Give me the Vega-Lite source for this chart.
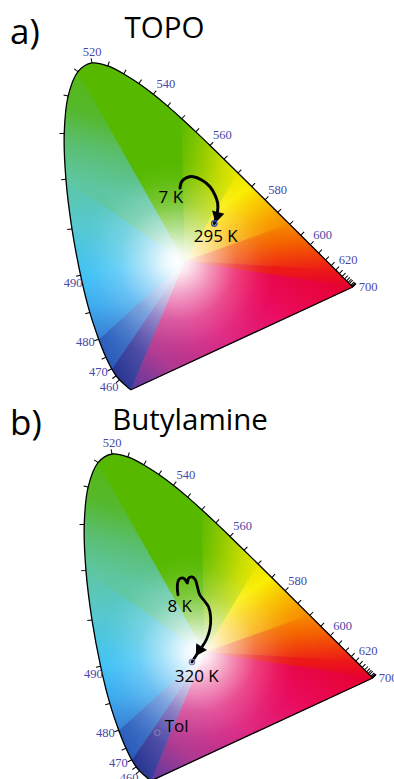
{
  "$schema": "https://vega.github.io/schema/vega-lite/v6.json",
  "padding": 0,
  "bounds": "flush",
  "spacing": 0,
  "background": "white",
  "config": {"view": {"stroke": null}, "concat": {"spacing": 0}},
  "datasets": {
    "locus": [
      {"nm":380,"x":0.1741,"y":0.0050},{"nm":400,"x":0.1733,"y":0.0048},{"nm":420,"x":0.1714,"y":0.0051},
      {"nm":440,"x":0.1644,"y":0.0109},{"nm":450,"x":0.1566,"y":0.0177},{"nm":455,"x":0.1510,"y":0.0227},
      {"nm":460,"x":0.1440,"y":0.0297},{"nm":465,"x":0.1355,"y":0.0399},{"nm":470,"x":0.1241,"y":0.0578},
      {"nm":475,"x":0.1096,"y":0.0868},{"nm":480,"x":0.0913,"y":0.1327},{"nm":485,"x":0.0687,"y":0.2007},
      {"nm":490,"x":0.0454,"y":0.2950},{"nm":495,"x":0.0235,"y":0.4127},{"nm":500,"x":0.0082,"y":0.5384},
      {"nm":505,"x":0.0039,"y":0.6548},{"nm":510,"x":0.0139,"y":0.7502},{"nm":515,"x":0.0389,"y":0.8120},
      {"nm":520,"x":0.0743,"y":0.8338},{"nm":525,"x":0.1142,"y":0.8262},{"nm":530,"x":0.1547,"y":0.8059},
      {"nm":535,"x":0.1929,"y":0.7816},{"nm":540,"x":0.2296,"y":0.7543},{"nm":545,"x":0.2658,"y":0.7243},
      {"nm":550,"x":0.3016,"y":0.6923},{"nm":555,"x":0.3373,"y":0.6589},{"nm":560,"x":0.3731,"y":0.6245},
      {"nm":565,"x":0.4087,"y":0.5896},{"nm":570,"x":0.4441,"y":0.5547},{"nm":575,"x":0.4788,"y":0.5202},
      {"nm":580,"x":0.5125,"y":0.4866},{"nm":585,"x":0.5448,"y":0.4544},{"nm":590,"x":0.5752,"y":0.4242},
      {"nm":595,"x":0.6029,"y":0.3965},{"nm":600,"x":0.6270,"y":0.3725},{"nm":605,"x":0.6482,"y":0.3514},
      {"nm":610,"x":0.6658,"y":0.3340},{"nm":615,"x":0.6801,"y":0.3197},{"nm":620,"x":0.6915,"y":0.3083},
      {"nm":625,"x":0.7006,"y":0.2993},{"nm":630,"x":0.7079,"y":0.2920},{"nm":635,"x":0.7140,"y":0.2859},
      {"nm":640,"x":0.7190,"y":0.2809},{"nm":645,"x":0.7230,"y":0.2770},{"nm":650,"x":0.7260,"y":0.2740},
      {"nm":660,"x":0.7300,"y":0.2700},{"nm":670,"x":0.7320,"y":0.2680},{"nm":680,"x":0.7334,"y":0.2666},
      {"nm":690,"x":0.7344,"y":0.2656},{"nm":700,"x":0.7347,"y":0.2653}
    ],
    "fan": [
      {"w":1,"o":0,"x":0.31,"y":0.33},{"w":1,"o":1,"x":0.1741,"y":0.005},{"w":1,"o":2,"x":0.144,"y":0.0297},{"w":1,"o":3,"x":0.1355,"y":0.0399},{"w":1,"o":4,"x":0.1241,"y":0.0578},
      {"w":2,"o":0,"x":0.31,"y":0.33},{"w":2,"o":1,"x":0.1241,"y":0.0578},{"w":2,"o":2,"x":0.1096,"y":0.0868},{"w":2,"o":3,"x":0.0913,"y":0.1327},
      {"w":3,"o":0,"x":0.31,"y":0.33},{"w":3,"o":1,"x":0.0913,"y":0.1327},{"w":3,"o":2,"x":0.0687,"y":0.2007},{"w":3,"o":3,"x":0.0454,"y":0.295},
      {"w":4,"o":0,"x":0.31,"y":0.33},{"w":4,"o":1,"x":0.0454,"y":0.295},{"w":4,"o":2,"x":0.0235,"y":0.4127},{"w":4,"o":3,"x":0.0082,"y":0.5384},
      {"w":5,"o":0,"x":0.31,"y":0.33},{"w":5,"o":1,"x":0.0082,"y":0.5384},{"w":5,"o":2,"x":0.0039,"y":0.6548},{"w":5,"o":3,"x":0.0139,"y":0.7502},{"w":5,"o":4,"x":0.0389,"y":0.812},
      {"w":6,"o":0,"x":0.31,"y":0.33},{"w":6,"o":1,"x":0.0389,"y":0.812},{"w":6,"o":2,"x":0.0743,"y":0.8338},{"w":6,"o":3,"x":0.1142,"y":0.8262},{"w":6,"o":4,"x":0.1547,"y":0.8059},{"w":6,"o":5,"x":0.1929,"y":0.7816},{"w":6,"o":6,"x":0.2296,"y":0.7543},{"w":6,"o":7,"x":0.2658,"y":0.7243},{"w":6,"o":8,"x":0.3016,"y":0.6923},
      {"w":7,"o":0,"x":0.31,"y":0.33},{"w":7,"o":1,"x":0.3016,"y":0.6923},{"w":7,"o":2,"x":0.3373,"y":0.6589},{"w":7,"o":3,"x":0.3731,"y":0.6245},{"w":7,"o":4,"x":0.4087,"y":0.5896},{"w":7,"o":5,"x":0.4441,"y":0.5547},
      {"w":8,"o":0,"x":0.31,"y":0.33},{"w":8,"o":1,"x":0.4441,"y":0.5547},{"w":8,"o":2,"x":0.4788,"y":0.5202},{"w":8,"o":3,"x":0.5125,"y":0.4866},{"w":8,"o":4,"x":0.5448,"y":0.4544},{"w":8,"o":5,"x":0.5752,"y":0.4242},
      {"w":9,"o":0,"x":0.31,"y":0.33},{"w":9,"o":1,"x":0.5752,"y":0.4242},{"w":9,"o":2,"x":0.6029,"y":0.3965},{"w":9,"o":3,"x":0.627,"y":0.3725},{"w":9,"o":4,"x":0.6482,"y":0.3514},{"w":9,"o":5,"x":0.6658,"y":0.334},{"w":9,"o":6,"x":0.6801,"y":0.3197},{"w":9,"o":7,"x":0.6915,"y":0.3083},
      {"w":10,"o":0,"x":0.31,"y":0.33},{"w":10,"o":1,"x":0.6915,"y":0.3083},{"w":10,"o":2,"x":0.7006,"y":0.2993},{"w":10,"o":3,"x":0.7079,"y":0.292},{"w":10,"o":4,"x":0.714,"y":0.2859},{"w":10,"o":5,"x":0.719,"y":0.2809},{"w":10,"o":6,"x":0.723,"y":0.277},{"w":10,"o":7,"x":0.726,"y":0.274},{"w":10,"o":8,"x":0.73,"y":0.27},{"w":10,"o":9,"x":0.7334,"y":0.2666},{"w":10,"o":10,"x":0.7347,"y":0.2653},
      {"w":11,"o":0,"x":0.31,"y":0.33},{"w":11,"o":1,"x":0.7347,"y":0.2653},{"w":11,"o":2,"x":0.1741,"y":0.005}
    ],
    "headings": [
      {"panel":"a","kind":"tag","text":"a)","x":-0.1335,"y":0.882},
      {"panel":"a","kind":"name","text":"TOPO","x":0.2579,"y":0.898},
      {"panel":"b","kind":"tag","text":"b)","x":-0.1841,"y":0.882},
      {"panel":"b","kind":"name","text":"Butylamine","x":0.2718,"y":0.8947}
    ],
    "notes": [
      {"panel":"a","text":"7 K","x":0.2738,"y":0.4906},
      {"panel":"a","text":"295 K","x":0.3878,"y":0.3909},
      {"panel":"b","text":"8 K","x":0.2457,"y":0.4454},
      {"panel":"b","text":"320 K","x":0.2888,"y":0.2685},
      {"panel":"b","text":"Tol","x":0.238,"y":0.1416}
    ],
    "markers": [
      {"panel":"a","name":"295 K","x":0.384,"y":0.4264},
      {"panel":"b","name":"320 K","x":0.2768,"y":0.3058},
      {"panel":"b","name":"Tol","x":0.189,"y":0.1264}
    ],
    "path": [
      {"panel":"a","i":0,"x":0.2971,"y":0.5165},{"panel":"a","i":1,"x":0.3014,"y":0.5325},{"panel":"a","i":2,"x":0.3141,"y":0.5426},
      {"panel":"a","i":3,"x":0.3308,"y":0.5452},{"panel":"a","i":4,"x":0.3521,"y":0.5368},{"panel":"a","i":5,"x":0.3731,"y":0.5198},
      {"panel":"a","i":6,"x":0.3858,"y":0.4987},{"panel":"a","i":7,"x":0.3926,"y":0.4777},{"panel":"a","i":8,"x":0.3921,"y":0.4556},
      {"panel":"a","i":9,"x":0.384,"y":0.4264},
      {"panel":"b","i":0,"x":0.2414,"y":0.4766},{"panel":"b","i":1,"x":0.2396,"y":0.498},{"panel":"b","i":2,"x":0.2432,"y":0.5147},
      {"panel":"b","i":3,"x":0.2497,"y":0.519},{"panel":"b","i":4,"x":0.2584,"y":0.5165},{"panel":"b","i":5,"x":0.2649,"y":0.5063},
      {"panel":"b","i":6,"x":0.2685,"y":0.519},{"panel":"b","i":7,"x":0.2768,"y":0.5216},{"panel":"b","i":8,"x":0.2852,"y":0.5147},
      {"panel":"b","i":9,"x":0.2903,"y":0.498},{"panel":"b","i":10,"x":0.2963,"y":0.4766},{"panel":"b","i":11,"x":0.309,"y":0.4599},
      {"panel":"b","i":12,"x":0.3191,"y":0.4447},{"panel":"b","i":13,"x":0.3242,"y":0.4175},{"panel":"b","i":14,"x":0.3217,"y":0.3878},
      {"panel":"b","i":15,"x":0.3131,"y":0.3624},{"panel":"b","i":16,"x":0.3004,"y":0.3414},{"panel":"b","i":17,"x":0.2895,"y":0.3261},
      {"panel":"b","i":18,"x":0.2768,"y":0.3058}
    ]
  },
  "vconcat": [
    {
      "width": 394,
      "height": 390,
      "encoding": {
        "x": {"field": "x", "type": "quantitative", "scale": {"domain": [-0.1588, 0.8392], "nice": false, "zero": false}, "axis": null},
        "y": {"field": "y", "type": "quantitative", "scale": {"domain": [0.0038, 0.99365], "nice": false, "zero": false}, "axis": null}
      },
      "layer": [
        {"data": {"name": "locus"}, "mark": {"type": "line", "interpolate": "catmull-rom", "fill": "#5cba50", "strokeOpacity": 0}, "encoding": {"order": {"field": "nm"}}},
        {"data": {"name": "fan"}, "transform": [{"filter": "datum.w == 1"}], "mark": {"type": "line", "interpolate": "linear-closed", "strokeWidth": 0.8, "fill": {"gradient": "linear", "x1": 0.1345, "y1": 0.9188, "x2": 1, "y2": 0, "stops": [{"offset": 0, "color": "#2a3894"}, {"offset": 0.45, "color": "#6a5cb4"}, {"offset": 1, "color": "#b8a8dc"}]}, "stroke": {"gradient": "linear", "x1": 0.1345, "y1": 0.9188, "x2": 1, "y2": 0, "stops": [{"offset": 0, "color": "#2a3894"}, {"offset": 0.45, "color": "#6a5cb4"}, {"offset": 1, "color": "#b8a8dc"}]}}, "encoding": {"order": {"field": "o"}}},
        {"data": {"name": "fan"}, "transform": [{"filter": "datum.w == 2"}], "mark": {"type": "line", "interpolate": "linear-closed", "strokeWidth": 0.8, "fill": {"gradient": "linear", "x1": 0.075, "y1": 0.8622, "x2": 1, "y2": 0, "stops": [{"offset": 0, "color": "#2a5cba"}, {"offset": 0.5, "color": "#5a8cd6"}, {"offset": 1, "color": "#a8c4ec"}]}, "stroke": {"gradient": "linear", "x1": 0.075, "y1": 0.8622, "x2": 1, "y2": 0, "stops": [{"offset": 0, "color": "#2a5cba"}, {"offset": 0.5, "color": "#5a8cd6"}, {"offset": 1, "color": "#a8c4ec"}]}}, "encoding": {"order": {"field": "o"}}},
        {"data": {"name": "fan"}, "transform": [{"filter": "datum.w == 3"}], "mark": {"type": "line", "interpolate": "linear-closed", "strokeWidth": 0.8, "fill": {"gradient": "linear", "x1": 0.1735, "y1": 1, "x2": 0, "y2": 0.1774, "stops": [{"offset": 0, "color": "#3a80d4"}, {"offset": 0.5, "color": "#3eaaee"}, {"offset": 1, "color": "#40c2f6"}]}, "stroke": {"gradient": "linear", "x1": 0.1735, "y1": 1, "x2": 0, "y2": 0.1774, "stops": [{"offset": 0, "color": "#3a80d4"}, {"offset": 0.5, "color": "#3eaaee"}, {"offset": 1, "color": "#40c2f6"}]}}, "encoding": {"order": {"field": "o"}}},
        {"data": {"name": "fan"}, "transform": [{"filter": "datum.w == 4"}], "mark": {"type": "line", "interpolate": "linear-closed", "strokeWidth": 0.8, "fill": {"gradient": "linear", "x1": 0.1233, "y1": 1, "x2": 0, "y2": 0, "stops": [{"offset": 0, "color": "#40c2f6"}, {"offset": 0.5, "color": "#56c8d0"}, {"offset": 1, "color": "#5ec6a2"}]}, "stroke": {"gradient": "linear", "x1": 0.1233, "y1": 1, "x2": 0, "y2": 0, "stops": [{"offset": 0, "color": "#40c2f6"}, {"offset": 0.5, "color": "#56c8d0"}, {"offset": 1, "color": "#5ec6a2"}]}}, "encoding": {"order": {"field": "o"}}},
        {"data": {"name": "fan"}, "transform": [{"filter": "datum.w == 5"}], "mark": {"type": "line", "interpolate": "linear-closed", "strokeWidth": 0.8, "fill": {"gradient": "linear", "x1": 0.014, "y1": 0.5676, "x2": 0.1143, "y2": 0, "stops": [{"offset": 0, "color": "#5ec6a2"}, {"offset": 0.35, "color": "#5abe6e"}, {"offset": 0.65, "color": "#54b82c"}, {"offset": 1, "color": "#55b814"}]}, "stroke": {"gradient": "linear", "x1": 0.014, "y1": 0.5676, "x2": 0.1143, "y2": 0, "stops": [{"offset": 0, "color": "#5ec6a2"}, {"offset": 0.35, "color": "#5abe6e"}, {"offset": 0.65, "color": "#54b82c"}, {"offset": 1, "color": "#55b814"}]}}, "encoding": {"order": {"field": "o"}}},
        {"data": {"name": "fan"}, "transform": [{"filter": "datum.w == 6"}], "mark": {"type": "line", "interpolate": "linear-closed", "strokeWidth": 0.8, "fill": "#56b900", "stroke": "#56b900"}, "encoding": {"order": {"field": "o"}}},
        {"data": {"name": "fan"}, "transform": [{"filter": "datum.w == 7"}], "mark": {"type": "line", "interpolate": "linear-closed", "strokeWidth": 0.8, "fill": {"gradient": "linear", "x1": 0, "y1": 0, "x2": 1, "y2": 0.3798, "stops": [{"offset": 0, "color": "#5cba00"}, {"offset": 0.25, "color": "#7cc400"}, {"offset": 0.5, "color": "#a2d000"}, {"offset": 0.75, "color": "#cade00"}, {"offset": 1, "color": "#e8e600"}]}, "stroke": {"gradient": "linear", "x1": 0, "y1": 0, "x2": 1, "y2": 0.3798, "stops": [{"offset": 0, "color": "#5cba00"}, {"offset": 0.25, "color": "#7cc400"}, {"offset": 0.5, "color": "#a2d000"}, {"offset": 0.75, "color": "#cade00"}, {"offset": 1, "color": "#e8e600"}]}}, "encoding": {"order": {"field": "o"}}},
        {"data": {"name": "fan"}, "transform": [{"filter": "datum.w == 8"}], "mark": {"type": "line", "interpolate": "linear-closed", "strokeWidth": 0.8, "fill": {"gradient": "linear", "x1": 0.5057, "y1": 0, "x2": 1, "y2": 0.5808, "stops": [{"offset": 0, "color": "#e8e600"}, {"offset": 0.25, "color": "#faee00"}, {"offset": 0.5, "color": "#f9c800"}, {"offset": 0.75, "color": "#f8a600"}, {"offset": 1, "color": "#f78800"}]}, "stroke": {"gradient": "linear", "x1": 0.5057, "y1": 0, "x2": 1, "y2": 0.5808, "stops": [{"offset": 0, "color": "#e8e600"}, {"offset": 0.25, "color": "#faee00"}, {"offset": 0.5, "color": "#f9c800"}, {"offset": 0.75, "color": "#f8a600"}, {"offset": 1, "color": "#f78800"}]}}, "encoding": {"order": {"field": "o"}}},
        {"data": {"name": "fan"}, "transform": [{"filter": "datum.w == 9"}], "mark": {"type": "line", "interpolate": "linear-closed", "strokeWidth": 0.8, "fill": {"gradient": "linear", "x1": 0.6951, "y1": 0, "x2": 1, "y2": 1, "stops": [{"offset": 0, "color": "#f78800"}, {"offset": 0.35, "color": "#f46400"}, {"offset": 0.7, "color": "#f03a0c"}, {"offset": 1, "color": "#ec1818"}]}, "stroke": {"gradient": "linear", "x1": 0.6951, "y1": 0, "x2": 1, "y2": 1, "stops": [{"offset": 0, "color": "#f78800"}, {"offset": 0.35, "color": "#f46400"}, {"offset": 0.7, "color": "#f03a0c"}, {"offset": 1, "color": "#ec1818"}]}}, "encoding": {"order": {"field": "o"}}},
        {"data": {"name": "fan"}, "transform": [{"filter": "datum.w == 10"}], "mark": {"type": "line", "interpolate": "linear-closed", "strokeWidth": 0.8, "fill": {"gradient": "linear", "x1": 0.8983, "y1": 0.3354, "x2": 1, "y2": 1, "stops": [{"offset": 0, "color": "#ec1818"}, {"offset": 1, "color": "#e6002e"}]}, "stroke": {"gradient": "linear", "x1": 0.8983, "y1": 0.3354, "x2": 1, "y2": 1, "stops": [{"offset": 0, "color": "#ec1818"}, {"offset": 1, "color": "#e6002e"}]}}, "encoding": {"order": {"field": "o"}}},
        {"data": {"name": "fan"}, "transform": [{"filter": "datum.w == 11"}], "mark": {"type": "line", "interpolate": "linear-closed", "strokeWidth": 0.8, "fill": {"gradient": "linear", "x1": 1, "y1": 0.1991, "x2": 0, "y2": 1, "stops": [{"offset": 0, "color": "#e6002e"}, {"offset": 0.3, "color": "#ea0c5e"}, {"offset": 0.55, "color": "#de2682"}, {"offset": 0.8, "color": "#b03a92"}, {"offset": 1, "color": "#5a3a9e"}]}, "stroke": {"gradient": "linear", "x1": 1, "y1": 0.1991, "x2": 0, "y2": 1, "stops": [{"offset": 0, "color": "#e6002e"}, {"offset": 0.3, "color": "#ea0c5e"}, {"offset": 0.55, "color": "#de2682"}, {"offset": 0.8, "color": "#b03a92"}, {"offset": 1, "color": "#5a3a9e"}]}}, "encoding": {"order": {"field": "o"}}},
        {"data": {"name": "locus"}, "mark": {"type": "line", "interpolate": "catmull-rom", "strokeOpacity": 0, "fill": {"gradient": "radial", "x1": 0.405, "y1": 0.608, "r1": 0, "x2": 0.405, "y2": 0.608, "r2": 0.3, "stops": [{"offset": 0, "color": "rgba(255,255,255,1)"}, {"offset": 0.12, "color": "rgba(255,255,255,0.9)"}, {"offset": 0.35, "color": "rgba(255,255,255,0.55)"}, {"offset": 0.6, "color": "rgba(255,255,255,0.22)"}, {"offset": 0.85, "color": "rgba(255,255,255,0.05)"}, {"offset": 1, "color": "rgba(255,255,255,0)"}]}}, "encoding": {"order": {"field": "nm"}}},
        {"data": {"name": "locus"}, "mark": {"type": "line", "interpolate": "catmull-rom", "stroke": "black", "strokeWidth": 1.3}, "encoding": {"order": {"field": "nm"}}},
        {"data": {"name": "locus"}, "transform": [{"filter": "datum.nm == 380 || datum.nm == 700"}], "mark": {"type": "line", "stroke": "black", "strokeWidth": 1.3}, "encoding": {"order": {"field": "nm"}}},
        {"data": {"name": "locus"}, "transform": [
            {"window": [{"op": "lag", "field": "x", "as": "xp"}, {"op": "lag", "field": "y", "as": "yp"}, {"op": "lead", "field": "x", "as": "xn"}, {"op": "lead", "field": "y", "as": "yn"}], "sort": [{"field": "nm", "order": "ascending"}]},
            {"calculate": "atan2(-((isValid(datum.yn) ? datum.yn : datum.y) - (isValid(datum.yp) ? datum.yp : datum.y)), (isValid(datum.xn) ? datum.xn : datum.x) - (isValid(datum.xp) ? datum.xp : datum.x)) * 180 / PI", "as": "ang"},
            {"filter": "datum.nm >= 460"}
          ],
          "mark": {"type": "point", "shape": "M0,0L0,-1", "size": 90, "filled": false, "stroke": "black", "strokeWidth": 1, "opacity": 1},
          "encoding": {"angle": {"field": "ang", "type": "quantitative", "scale": null}}},
        {"data": {"name": "locus"}, "transform": [{"filter": "datum.nm == 520"}], "mark": {"type": "text", "font": "Liberation Serif", "fontSize": 12.5, "color": "#4848a8", "align": "center", "baseline": "middle", "dy": -11}, "encoding": {"text": {"field": "nm", "type": "nominal"}}},
        {"data": {"name": "locus"}, "transform": [{"filter": "indexof([540, 560, 580, 600, 620], datum.nm) >= 0"}], "mark": {"type": "text", "font": "Liberation Serif", "fontSize": 12.5, "color": "#4848a8", "align": "center", "baseline": "middle", "dx": 12.5, "dy": -10}, "encoding": {"text": {"field": "nm", "type": "nominal"}}},
        {"data": {"name": "locus"}, "transform": [{"filter": "datum.nm == 700"}], "mark": {"type": "text", "font": "Liberation Serif", "fontSize": 12.5, "color": "#4848a8", "align": "left", "baseline": "middle", "dx": 6, "dy": 0.5}, "encoding": {"text": {"field": "nm", "type": "nominal"}}},
        {"data": {"name": "locus"}, "transform": [{"filter": "datum.nm == 470 || datum.nm == 480"}], "mark": {"type": "text", "font": "Liberation Serif", "fontSize": 12.5, "color": "#4848a8", "align": "right", "baseline": "middle", "dx": -4, "dy": 3}, "encoding": {"text": {"field": "nm", "type": "nominal"}}},
        {"data": {"name": "locus"}, "transform": [{"filter": "datum.nm == 460"}], "mark": {"type": "text", "font": "Liberation Serif", "fontSize": 12.5, "color": "#4848a8", "align": "right", "baseline": "middle", "dx": -1, "dy": 7}, "encoding": {"text": {"field": "nm", "type": "nominal"}}},
        {"data": {"name": "locus"}, "transform": [{"filter": "datum.nm == 490"}], "mark": {"type": "text", "font": "Liberation Serif", "fontSize": 12.5, "color": "#4848a8", "align": "right", "baseline": "middle", "dx": 2, "dy": 8}, "encoding": {"text": {"field": "nm", "type": "nominal"}}},
        {"data": {"name": "path"}, "transform": [{"filter": "datum.panel == 'a'"}], "mark": {"type": "line", "interpolate": "catmull-rom", "stroke": "black", "strokeWidth": 3, "strokeCap": "round"}, "encoding": {"order": {"field": "i"}}},
        {"data": {"name": "path"}, "transform": [{"filter": "datum.panel == 'a' && datum.i == 9"}], "mark": {"type": "point", "shape": "triangle-down", "size": 160, "filled": true, "color": "black", "opacity": 1, "angle": 15, "xOffset": 2.5, "yOffset": -6}},
        {"data": {"name": "markers"}, "transform": [{"filter": "datum.panel == 'a'"}], "mark": {"type": "point", "shape": "circle", "size": 30, "filled": false, "stroke": "#2f4fb0", "strokeWidth": 1.3, "opacity": 1}},
        {"data": {"name": "notes"}, "transform": [{"filter": "datum.panel == 'a'"}], "mark": {"type": "text", "font": "Open Sans", "fontSize": 17, "color": "black", "align": "center", "baseline": "middle"}, "encoding": {"text": {"field": "text", "type": "nominal"}}},
        {"data": {"name": "headings"}, "transform": [{"filter": "datum.panel == 'a' && datum.kind == 'tag'"}], "mark": {"type": "text", "font": "Open Sans", "fontSize": 35, "color": "black", "align": "left", "baseline": "alphabetic"}, "encoding": {"text": {"field": "text", "type": "nominal"}}},
        {"data": {"name": "headings"}, "transform": [{"filter": "datum.panel == 'a' && datum.kind == 'name'"}], "mark": {"type": "text", "font": "Open Sans", "fontSize": 29.5, "color": "black", "align": "center", "baseline": "alphabetic"}, "encoding": {"text": {"field": "text", "type": "nominal"}}}
      ]
    },
    {
      "width": 394,
      "height": 389,
      "encoding": {
        "x": {"field": "x", "type": "quantitative", "scale": {"domain": [-0.2095, 0.7885], "nice": false, "zero": false}, "axis": null},
        "y": {"field": "y", "type": "quantitative", "scale": {"domain": [0.0089, 0.9962], "nice": false, "zero": false}, "axis": null}
      },
      "layer": [
        {"data": {"name": "locus"}, "mark": {"type": "line", "interpolate": "catmull-rom", "fill": "#5cba50", "strokeOpacity": 0}, "encoding": {"order": {"field": "nm"}}},
        {"data": {"name": "fan"}, "transform": [{"filter": "datum.w == 1"}], "mark": {"type": "line", "interpolate": "linear-closed", "strokeWidth": 0.8, "fill": {"gradient": "linear", "x1": 0.1345, "y1": 0.9188, "x2": 1, "y2": 0, "stops": [{"offset": 0, "color": "#2a3894"}, {"offset": 0.45, "color": "#6a5cb4"}, {"offset": 1, "color": "#b8a8dc"}]}, "stroke": {"gradient": "linear", "x1": 0.1345, "y1": 0.9188, "x2": 1, "y2": 0, "stops": [{"offset": 0, "color": "#2a3894"}, {"offset": 0.45, "color": "#6a5cb4"}, {"offset": 1, "color": "#b8a8dc"}]}}, "encoding": {"order": {"field": "o"}}},
        {"data": {"name": "fan"}, "transform": [{"filter": "datum.w == 2"}], "mark": {"type": "line", "interpolate": "linear-closed", "strokeWidth": 0.8, "fill": {"gradient": "linear", "x1": 0.075, "y1": 0.8622, "x2": 1, "y2": 0, "stops": [{"offset": 0, "color": "#2a5cba"}, {"offset": 0.5, "color": "#5a8cd6"}, {"offset": 1, "color": "#a8c4ec"}]}, "stroke": {"gradient": "linear", "x1": 0.075, "y1": 0.8622, "x2": 1, "y2": 0, "stops": [{"offset": 0, "color": "#2a5cba"}, {"offset": 0.5, "color": "#5a8cd6"}, {"offset": 1, "color": "#a8c4ec"}]}}, "encoding": {"order": {"field": "o"}}},
        {"data": {"name": "fan"}, "transform": [{"filter": "datum.w == 3"}], "mark": {"type": "line", "interpolate": "linear-closed", "strokeWidth": 0.8, "fill": {"gradient": "linear", "x1": 0.1735, "y1": 1, "x2": 0, "y2": 0.1774, "stops": [{"offset": 0, "color": "#3a80d4"}, {"offset": 0.5, "color": "#3eaaee"}, {"offset": 1, "color": "#40c2f6"}]}, "stroke": {"gradient": "linear", "x1": 0.1735, "y1": 1, "x2": 0, "y2": 0.1774, "stops": [{"offset": 0, "color": "#3a80d4"}, {"offset": 0.5, "color": "#3eaaee"}, {"offset": 1, "color": "#40c2f6"}]}}, "encoding": {"order": {"field": "o"}}},
        {"data": {"name": "fan"}, "transform": [{"filter": "datum.w == 4"}], "mark": {"type": "line", "interpolate": "linear-closed", "strokeWidth": 0.8, "fill": {"gradient": "linear", "x1": 0.1233, "y1": 1, "x2": 0, "y2": 0, "stops": [{"offset": 0, "color": "#40c2f6"}, {"offset": 0.5, "color": "#56c8d0"}, {"offset": 1, "color": "#5ec6a2"}]}, "stroke": {"gradient": "linear", "x1": 0.1233, "y1": 1, "x2": 0, "y2": 0, "stops": [{"offset": 0, "color": "#40c2f6"}, {"offset": 0.5, "color": "#56c8d0"}, {"offset": 1, "color": "#5ec6a2"}]}}, "encoding": {"order": {"field": "o"}}},
        {"data": {"name": "fan"}, "transform": [{"filter": "datum.w == 5"}], "mark": {"type": "line", "interpolate": "linear-closed", "strokeWidth": 0.8, "fill": {"gradient": "linear", "x1": 0.014, "y1": 0.5676, "x2": 0.1143, "y2": 0, "stops": [{"offset": 0, "color": "#5ec6a2"}, {"offset": 0.35, "color": "#5abe6e"}, {"offset": 0.65, "color": "#54b82c"}, {"offset": 1, "color": "#55b814"}]}, "stroke": {"gradient": "linear", "x1": 0.014, "y1": 0.5676, "x2": 0.1143, "y2": 0, "stops": [{"offset": 0, "color": "#5ec6a2"}, {"offset": 0.35, "color": "#5abe6e"}, {"offset": 0.65, "color": "#54b82c"}, {"offset": 1, "color": "#55b814"}]}}, "encoding": {"order": {"field": "o"}}},
        {"data": {"name": "fan"}, "transform": [{"filter": "datum.w == 6"}], "mark": {"type": "line", "interpolate": "linear-closed", "strokeWidth": 0.8, "fill": "#56b900", "stroke": "#56b900"}, "encoding": {"order": {"field": "o"}}},
        {"data": {"name": "fan"}, "transform": [{"filter": "datum.w == 7"}], "mark": {"type": "line", "interpolate": "linear-closed", "strokeWidth": 0.8, "fill": {"gradient": "linear", "x1": 0, "y1": 0, "x2": 1, "y2": 0.3798, "stops": [{"offset": 0, "color": "#5cba00"}, {"offset": 0.25, "color": "#7cc400"}, {"offset": 0.5, "color": "#a2d000"}, {"offset": 0.75, "color": "#cade00"}, {"offset": 1, "color": "#e8e600"}]}, "stroke": {"gradient": "linear", "x1": 0, "y1": 0, "x2": 1, "y2": 0.3798, "stops": [{"offset": 0, "color": "#5cba00"}, {"offset": 0.25, "color": "#7cc400"}, {"offset": 0.5, "color": "#a2d000"}, {"offset": 0.75, "color": "#cade00"}, {"offset": 1, "color": "#e8e600"}]}}, "encoding": {"order": {"field": "o"}}},
        {"data": {"name": "fan"}, "transform": [{"filter": "datum.w == 8"}], "mark": {"type": "line", "interpolate": "linear-closed", "strokeWidth": 0.8, "fill": {"gradient": "linear", "x1": 0.5057, "y1": 0, "x2": 1, "y2": 0.5808, "stops": [{"offset": 0, "color": "#e8e600"}, {"offset": 0.25, "color": "#faee00"}, {"offset": 0.5, "color": "#f9c800"}, {"offset": 0.75, "color": "#f8a600"}, {"offset": 1, "color": "#f78800"}]}, "stroke": {"gradient": "linear", "x1": 0.5057, "y1": 0, "x2": 1, "y2": 0.5808, "stops": [{"offset": 0, "color": "#e8e600"}, {"offset": 0.25, "color": "#faee00"}, {"offset": 0.5, "color": "#f9c800"}, {"offset": 0.75, "color": "#f8a600"}, {"offset": 1, "color": "#f78800"}]}}, "encoding": {"order": {"field": "o"}}},
        {"data": {"name": "fan"}, "transform": [{"filter": "datum.w == 9"}], "mark": {"type": "line", "interpolate": "linear-closed", "strokeWidth": 0.8, "fill": {"gradient": "linear", "x1": 0.6951, "y1": 0, "x2": 1, "y2": 1, "stops": [{"offset": 0, "color": "#f78800"}, {"offset": 0.35, "color": "#f46400"}, {"offset": 0.7, "color": "#f03a0c"}, {"offset": 1, "color": "#ec1818"}]}, "stroke": {"gradient": "linear", "x1": 0.6951, "y1": 0, "x2": 1, "y2": 1, "stops": [{"offset": 0, "color": "#f78800"}, {"offset": 0.35, "color": "#f46400"}, {"offset": 0.7, "color": "#f03a0c"}, {"offset": 1, "color": "#ec1818"}]}}, "encoding": {"order": {"field": "o"}}},
        {"data": {"name": "fan"}, "transform": [{"filter": "datum.w == 10"}], "mark": {"type": "line", "interpolate": "linear-closed", "strokeWidth": 0.8, "fill": {"gradient": "linear", "x1": 0.8983, "y1": 0.3354, "x2": 1, "y2": 1, "stops": [{"offset": 0, "color": "#ec1818"}, {"offset": 1, "color": "#e6002e"}]}, "stroke": {"gradient": "linear", "x1": 0.8983, "y1": 0.3354, "x2": 1, "y2": 1, "stops": [{"offset": 0, "color": "#ec1818"}, {"offset": 1, "color": "#e6002e"}]}}, "encoding": {"order": {"field": "o"}}},
        {"data": {"name": "fan"}, "transform": [{"filter": "datum.w == 11"}], "mark": {"type": "line", "interpolate": "linear-closed", "strokeWidth": 0.8, "fill": {"gradient": "linear", "x1": 1, "y1": 0.1991, "x2": 0, "y2": 1, "stops": [{"offset": 0, "color": "#e6002e"}, {"offset": 0.3, "color": "#ea0c5e"}, {"offset": 0.55, "color": "#de2682"}, {"offset": 0.8, "color": "#b03a92"}, {"offset": 1, "color": "#5a3a9e"}]}, "stroke": {"gradient": "linear", "x1": 1, "y1": 0.1991, "x2": 0, "y2": 1, "stops": [{"offset": 0, "color": "#e6002e"}, {"offset": 0.3, "color": "#ea0c5e"}, {"offset": 0.55, "color": "#de2682"}, {"offset": 0.8, "color": "#b03a92"}, {"offset": 1, "color": "#5a3a9e"}]}}, "encoding": {"order": {"field": "o"}}},
        {"data": {"name": "locus"}, "mark": {"type": "line", "interpolate": "catmull-rom", "strokeOpacity": 0, "fill": {"gradient": "radial", "x1": 0.405, "y1": 0.608, "r1": 0, "x2": 0.405, "y2": 0.608, "r2": 0.3, "stops": [{"offset": 0, "color": "rgba(255,255,255,1)"}, {"offset": 0.12, "color": "rgba(255,255,255,0.9)"}, {"offset": 0.35, "color": "rgba(255,255,255,0.55)"}, {"offset": 0.6, "color": "rgba(255,255,255,0.22)"}, {"offset": 0.85, "color": "rgba(255,255,255,0.05)"}, {"offset": 1, "color": "rgba(255,255,255,0)"}]}}, "encoding": {"order": {"field": "nm"}}},
        {"data": {"name": "locus"}, "mark": {"type": "line", "interpolate": "catmull-rom", "stroke": "black", "strokeWidth": 1.3}, "encoding": {"order": {"field": "nm"}}},
        {"data": {"name": "locus"}, "transform": [{"filter": "datum.nm == 380 || datum.nm == 700"}], "mark": {"type": "line", "stroke": "black", "strokeWidth": 1.3}, "encoding": {"order": {"field": "nm"}}},
        {"data": {"name": "locus"}, "transform": [
            {"window": [{"op": "lag", "field": "x", "as": "xp"}, {"op": "lag", "field": "y", "as": "yp"}, {"op": "lead", "field": "x", "as": "xn"}, {"op": "lead", "field": "y", "as": "yn"}], "sort": [{"field": "nm", "order": "ascending"}]},
            {"calculate": "atan2(-((isValid(datum.yn) ? datum.yn : datum.y) - (isValid(datum.yp) ? datum.yp : datum.y)), (isValid(datum.xn) ? datum.xn : datum.x) - (isValid(datum.xp) ? datum.xp : datum.x)) * 180 / PI", "as": "ang"},
            {"filter": "datum.nm >= 460"}
          ],
          "mark": {"type": "point", "shape": "M0,0L0,-1", "size": 90, "filled": false, "stroke": "black", "strokeWidth": 1, "opacity": 1},
          "encoding": {"angle": {"field": "ang", "type": "quantitative", "scale": null}}},
        {"data": {"name": "locus"}, "transform": [{"filter": "datum.nm == 520"}], "mark": {"type": "text", "font": "Liberation Serif", "fontSize": 12.5, "color": "#4848a8", "align": "center", "baseline": "middle", "dy": -11}, "encoding": {"text": {"field": "nm", "type": "nominal"}}},
        {"data": {"name": "locus"}, "transform": [{"filter": "indexof([540, 560, 580, 600, 620], datum.nm) >= 0"}], "mark": {"type": "text", "font": "Liberation Serif", "fontSize": 12.5, "color": "#4848a8", "align": "center", "baseline": "middle", "dx": 12.5, "dy": -10}, "encoding": {"text": {"field": "nm", "type": "nominal"}}},
        {"data": {"name": "locus"}, "transform": [{"filter": "datum.nm == 700"}], "mark": {"type": "text", "font": "Liberation Serif", "fontSize": 12.5, "color": "#4848a8", "align": "left", "baseline": "middle", "dx": 6, "dy": 0.5}, "encoding": {"text": {"field": "nm", "type": "nominal"}}},
        {"data": {"name": "locus"}, "transform": [{"filter": "datum.nm == 470 || datum.nm == 480"}], "mark": {"type": "text", "font": "Liberation Serif", "fontSize": 12.5, "color": "#4848a8", "align": "right", "baseline": "middle", "dx": -4, "dy": 3}, "encoding": {"text": {"field": "nm", "type": "nominal"}}},
        {"data": {"name": "locus"}, "transform": [{"filter": "datum.nm == 460"}], "mark": {"type": "text", "font": "Liberation Serif", "fontSize": 12.5, "color": "#4848a8", "align": "right", "baseline": "middle", "dx": -1, "dy": 7}, "encoding": {"text": {"field": "nm", "type": "nominal"}}},
        {"data": {"name": "locus"}, "transform": [{"filter": "datum.nm == 490"}], "mark": {"type": "text", "font": "Liberation Serif", "fontSize": 12.5, "color": "#4848a8", "align": "right", "baseline": "middle", "dx": 2, "dy": 8}, "encoding": {"text": {"field": "nm", "type": "nominal"}}},
        {"data": {"name": "path"}, "transform": [{"filter": "datum.panel == 'b'"}], "mark": {"type": "line", "interpolate": "catmull-rom", "stroke": "black", "strokeWidth": 2.8, "strokeCap": "round"}, "encoding": {"order": {"field": "i"}}},
        {"data": {"name": "path"}, "transform": [{"filter": "datum.panel == 'b' && datum.i == 18"}], "mark": {"type": "point", "shape": "triangle-down", "size": 160, "filled": true, "color": "black", "opacity": 1, "angle": 32, "xOffset": 6.7, "yOffset": -10.7}},
        {"data": {"name": "markers"}, "transform": [{"filter": "datum.panel == 'b'"}], "mark": {"type": "point", "shape": "circle", "size": 30, "filled": false, "stroke": "#7c7cb4", "strokeWidth": 1.1, "opacity": 1}},
        {"data": {"name": "notes"}, "transform": [{"filter": "datum.panel == 'b'"}], "mark": {"type": "text", "font": "Open Sans", "fontSize": 17, "color": "black", "align": "center", "baseline": "middle"}, "encoding": {"text": {"field": "text", "type": "nominal"}}},
        {"data": {"name": "headings"}, "transform": [{"filter": "datum.panel == 'b' && datum.kind == 'tag'"}], "mark": {"type": "text", "font": "Open Sans", "fontSize": 35, "color": "black", "align": "left", "baseline": "alphabetic"}, "encoding": {"text": {"field": "text", "type": "nominal"}}},
        {"data": {"name": "headings"}, "transform": [{"filter": "datum.panel == 'b' && datum.kind == 'name'"}], "mark": {"type": "text", "font": "Open Sans", "fontSize": 29.5, "color": "black", "align": "center", "baseline": "alphabetic"}, "encoding": {"text": {"field": "text", "type": "nominal"}}}
      ]
    }
  ]
}
